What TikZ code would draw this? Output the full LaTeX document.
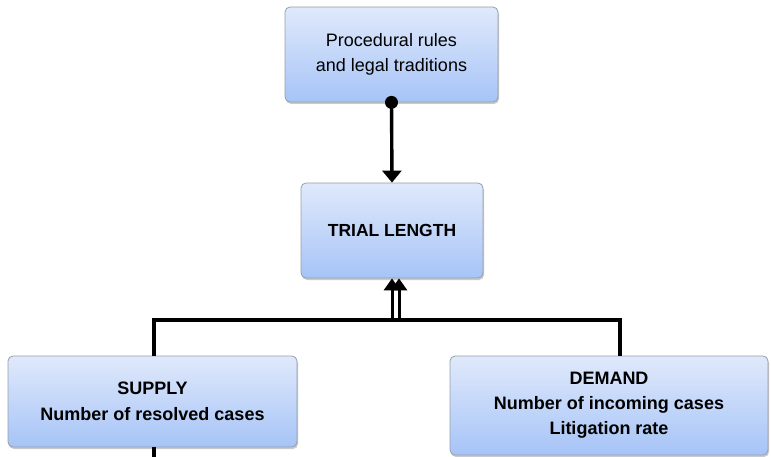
\documentclass[tikz,border=0pt]{standalone}
\usepackage{fontspec}
\setmainfont{Liberation Sans}
\usetikzlibrary{arrows.meta,shadows}
\definecolor{boxtop}{RGB}{224,233,251}
\definecolor{boxbot}{RGB}{166,196,247}
\definecolor{boxline}{RGB}{150,158,172}
\tikzset{
  blockbox/.style={rectangle, rounded corners=5pt, draw=boxline, line width=0.8pt,
    top color=boxtop, bottom color=boxbot, align=center, inner sep=0pt,
    drop shadow={shadow xshift=1pt, shadow yshift=-2pt, opacity=0.35, fill=black!60}},
  conn/.style={line width=3.4pt, draw=black},
  bigtip/.style={-{Triangle[width=19pt,length=12pt]}},
  twintip/.style={line width=3pt, -{Triangle[width=16pt,length=12pt]}},
}
\begin{document}
\begin{tikzpicture}[x=1pt,y=-1pt]
\useasboundingbox (0,0) rectangle (771,457);
\node[blockbox, minimum width=213pt, minimum height=95pt,
  font=\fontsize{18}{25}\selectfont] (proc) at (391.5,54.5)
  {Procedural rules\\and legal traditions};
\node[blockbox, minimum width=182pt, minimum height=95pt,
  font=\fontsize{17.5}{25}\selectfont\bfseries] (trial) at (392,230.5)
  {TRIAL LENGTH};
\node[blockbox, minimum width=289pt, minimum height=91pt,
  font=\fontsize{18}{26}\selectfont\bfseries] (supply) at (152.5,401.5)
  {SUPPLY\\Number of resolved cases};
\node[blockbox, minimum width=318pt, minimum height=99pt,
  font=\fontsize{18}{25}\selectfont\bfseries] (demand) at (609,405.5)
  {DEMAND\\Number of incoming cases\\Litigation rate};
% top connector
\draw[conn, bigtip] (proc.south) -- (trial.north);
\fill (proc.south) circle (6.5pt);
% bus
\coordinate (jl) at (154,320);
\coordinate (jr) at (620,320);
\coordinate (ja) at (392,320);
\coordinate (jb) at (399,320);
\coordinate (down) at (154,462);
\draw[conn] (jl |- supply.north) -- (jl) -- (jr) -- (jr |- demand.north);
\draw[twintip] (ja) -- (ja |- trial.south);
\draw[twintip] (jb) -- (jb |- trial.south);
\draw[conn] (supply.south -| down) -- (down);
\end{tikzpicture}
\end{document}
